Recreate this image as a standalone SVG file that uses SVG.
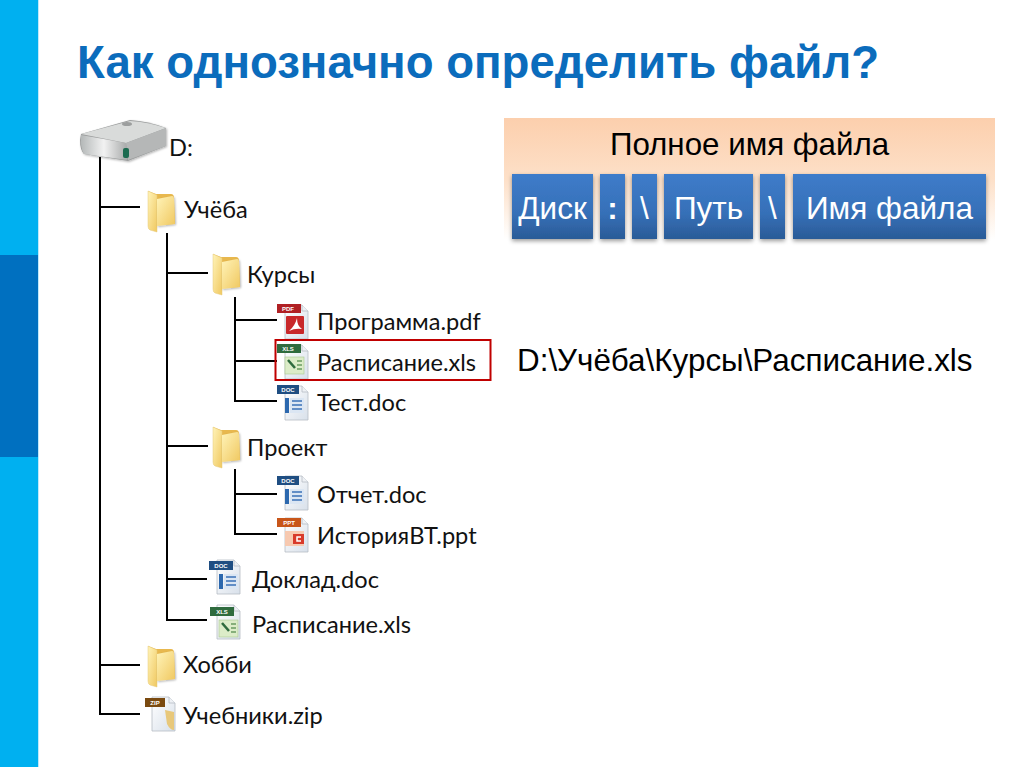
<svg xmlns="http://www.w3.org/2000/svg" width="1024" height="767" viewBox="0 0 1024 767">
<style>
.t{font-family:"Lato","Noto Sans","Liberation Sans",sans-serif;font-size:23.6px;fill:#111}
.a{font-family:"Liberation Sans",Arial,sans-serif}
.w{font-size:31.5px;fill:#fff;text-anchor:middle}
.l{stroke:#000;stroke-width:2;fill:none}
.box{fill:url(#bl);filter:url(#sh)}
.badge{font-family:"Liberation Sans",sans-serif;font-size:6px;font-weight:bold;fill:#fff;text-anchor:middle}
</style>
<defs>
<linearGradient id="pe" x1="0" y1="0" x2="0" y2="1"><stop offset="0" stop-color="#fccfad"/><stop offset=".5" stop-color="#fde0c8"/><stop offset="1" stop-color="#fff"/></linearGradient>
<linearGradient id="bl" x1="0" y1="0" x2="0" y2="1"><stop offset="0" stop-color="#3e7cca"/><stop offset=".6" stop-color="#3670b8"/><stop offset="1" stop-color="#2a5b97"/></linearGradient>
<linearGradient id="fo" x1="0" y1="0" x2="1" y2="1"><stop offset="0" stop-color="#fff3b8"/><stop offset="1" stop-color="#f0c860"/></linearGradient>
<linearGradient id="hd" x1="0" y1="0" x2="1" y2="0"><stop offset="0" stop-color="#b4b8b8"/><stop offset=".5" stop-color="#f2f2f2"/><stop offset="1" stop-color="#a8aaaa"/></linearGradient>
<linearGradient id="pg" x1="0" y1="0" x2="1" y2="1"><stop offset="0" stop-color="#fff"/><stop offset="1" stop-color="#d8e0ea"/></linearGradient>
<filter id="sh" x="-20%" y="-10%" width="140%" height="125%"><feDropShadow dx="0" dy="2" stdDeviation="2" flood-color="#000" flood-opacity=".4"/></filter>
<filter id="soft" x="-20%" y="-20%" width="140%" height="140%"><feDropShadow dx="1" dy="1" stdDeviation="1" flood-color="#000" flood-opacity=".3"/></filter>
<symbol id="folder" viewBox="0 0 30 44" width="30" height="44" overflow="visible">
<path d="M1 1 L9 4 L24 4 Q27 4 27 8 L28 34 L10 35 Z" fill="#e8b84e"/>
<path d="M1 1 L10 5 L10 42 L3 40 Q1 39 1 36 Z" fill="url(#fo)" stroke="#e6c878" stroke-width=".5"/>
<path d="M10 9 L25 6 Q27 6 27 9 L28 34 L10 36 Z" fill="url(#fo)" filter="url(#soft)"/>
</symbol>
<symbol id="page" viewBox="0 0 32 38" width="32" height="38" overflow="visible">
<path d="M6 2 H23 L29 8 V36 H6 Z" fill="url(#pg)" stroke="#b6bcc4" stroke-width=".8"/>
<path d="M23 2 V8 H29" fill="#eef1f5" stroke="#b6bcc4" stroke-width=".8"/>
</symbol>
</defs>

<g id="sidebar">
<rect x="0" y="0" width="38" height="767" fill="#00b0f0"/>
<rect x="0" y="255" width="38" height="202" fill="#0070c0"/>
<rect x="38" y="0" width="1" height="767" fill="#bfe9fb"/>
</g>

<text id="title" class="a" x="77" y="78" font-size="45.6" font-weight="bold" fill="#0b6cbc">Как однозначно определить файл?</text>

<g id="connectors">
<path class="l" d="M100 157V714H140M100 207H140M100 665H140"/>
<path class="l" d="M167 233V620H207M167 273H208M167 446H208M167 579H207"/>
<path class="l" d="M235 297V401H277M235 320H277M235 361H277"/>
<path class="l" d="M235 469V534H277M235 494H277"/>
</g>

<g id="node-d">
<path d="M81 134 L130 120 Q148 121 166 128 L166 146 L128 161 L84 154 Q80 150 80 140 Z" fill="#9a9c9c" filter="url(#soft)"/>
<path d="M81 134 L130 121 Q148 122 166 128 L126 143 Z" fill="#d9dbda"/>
<path d="M81 135 L126 143 L127 160 L84 154 Q80 148 81 135 Z" fill="url(#hd)"/>
<path d="M126 143 L166 128 L166 146 L128 160 Z" fill="#b5b7b7"/>
<rect x="123" y="148" width="6" height="10" rx="2" fill="#1c6b50"/>
<ellipse cx="127" cy="124" rx="5" ry="2" fill="#9c9e9e"/>
<text class="t" x="169" y="156">D:</text>
</g>
<g id="node-ucheba"><use href="#folder" x="147" y="190"/><text class="t" x="184" y="218">Учёба</text></g>
<g id="node-kursy"><use href="#folder" x="212" y="253"/><text class="t" x="247" y="283">Курсы</text></g>

<g id="node-programma">
<use href="#page" x="279" y="303"/><rect x="277" y="304" width="24" height="9" fill="#b02024"/><text class="badge" x="288" y="311">PDF</text>
<rect x="286" y="316" width="18" height="18" rx="1" fill="#c8282a"/><path d="M289 331 Q295 326 297 318 Q297 326 302 329 Q295 328 289 331Z" fill="#fff"/>
<text class="t" x="317" y="330">Программа.pdf</text>
</g>
<g id="node-raspisanie1">
<use href="#page" x="279" y="343"/><rect x="277" y="344" width="24" height="9" fill="#2f6b3e"/><text class="badge" x="288" y="351">XLS</text>
<rect x="285" y="357" width="19" height="17" fill="#dcecc8" stroke="#a8c890" stroke-width=".6"/><path d="M288 360 L295 368" stroke="#2f6b3e" stroke-width="2.5"/><path d="M297 361H302M297 365H302M297 369H302" stroke="#6a9a60" stroke-width="1.5"/>
<text class="t" x="317" y="371">Расписание.xls</text>
<rect x="275.5" y="340" width="215" height="40" fill="none" stroke="#c00000" stroke-width="2"/>
</g>
<g id="node-test">
<use href="#page" x="279" y="384"/><rect x="277" y="385" width="22" height="9" fill="#1f4e82"/><text class="badge" x="288" y="392">DOC</text>
<rect x="285" y="398" width="4" height="15" fill="#2c68ae"/><rect x="290" y="398" width="14" height="15" fill="#dbe6f3"/><path d="M292 401H302M292 405H302M292 409H302" stroke="#3b72b8" stroke-width="1.3"/>
<text class="t" x="317" y="411">Тест.doc</text>
</g>
<g id="node-proekt"><use href="#folder" x="212" y="426"/><text class="t" x="247" y="456">Проект</text></g>
<g id="node-otchet">
<use href="#page" x="279" y="474"/><rect x="277" y="476" width="22" height="9" fill="#1f4e82"/><text class="badge" x="288" y="483">DOC</text>
<rect x="285" y="489" width="4" height="15" fill="#2c68ae"/><rect x="290" y="489" width="14" height="15" fill="#dbe6f3"/><path d="M292 492H302M292 496H302M292 500H302" stroke="#3b72b8" stroke-width="1.3"/>
<text class="t" x="317" y="503">Отчет.doc</text>
</g>
<g id="node-istoria">
<use href="#page" x="279" y="516"/><rect x="277" y="518" width="24" height="9" fill="#c8561a"/><text class="badge" x="289" y="525">PPT</text>
<rect x="285" y="531" width="19" height="15" fill="#f7c9b0"/><rect x="293" y="534" width="11" height="10" fill="#d83a2a"/><path d="M301 537H297V541H301" stroke="#fff" stroke-width="1.5" fill="none"/>
<text class="t" x="317" y="544">ИсторияВТ.ppt</text>
</g>
<g id="node-doklad">
<use href="#page" x="211" y="558"/><rect x="209" y="561" width="24" height="9" fill="#1f4e82"/><text class="badge" x="221" y="568">DOC</text>
<rect x="219" y="574" width="4" height="15" fill="#2c68ae"/><rect x="224" y="574" width="14" height="15" fill="#dbe6f3"/><path d="M226 577H236M226 581H236M226 585H236" stroke="#3b72b8" stroke-width="1.3"/>
<text class="t" x="252" y="588">Доклад.doc</text>
</g>
<g id="node-raspisanie2">
<use href="#page" x="211" y="603"/><rect x="210" y="607" width="24" height="9" fill="#2f6b3e"/><text class="badge" x="222" y="614">XLS</text>
<rect x="219" y="620" width="19" height="17" fill="#dcecc8" stroke="#a8c890" stroke-width=".6"/><path d="M222 623 L229 631" stroke="#2f6b3e" stroke-width="2.5"/><path d="M231 624H236M231 628H236M231 632H236" stroke="#6a9a60" stroke-width="1.5"/>
<text class="t" x="252" y="633">Расписание.xls</text>
</g>
<g id="node-hobbi"><use href="#folder" x="147" y="645"/><text class="t" x="183" y="673">Хобби</text></g>
<g id="node-zip">
<use href="#page" x="146" y="695"/><rect x="145" y="698" width="20" height="9" fill="#7a4a10"/><text class="badge" x="155" y="705">ZIP</text>
<path d="M165 710 L167 724 Q170 730 174 730 V712 Z" fill="#e8c87a"/>
<text class="t" x="183" y="724">Учебники.zip</text>
</g>

<g id="panel">
<rect x="504" y="118" width="491" height="122" fill="url(#pe)"/>
<text class="a" x="749.5" y="154.5" font-size="31.3" text-anchor="middle" fill="#000">Полное имя файла</text>
</g>
<g id="box-disk"><rect class="box" x="512" y="174" width="81" height="65"/><text class="a w" x="552.5" y="219">Диск</text></g>
<g id="box-colon"><rect class="box" x="600" y="174" width="25" height="65"/><text class="a w" x="612.5" y="219" font-weight="bold">:</text></g>
<g id="box-bs1"><rect class="box" x="632" y="174" width="25" height="65"/><text class="a w" x="644.5" y="219">\</text></g>
<g id="box-path"><rect class="box" x="664" y="174" width="89" height="65"/><text class="a w" x="708.5" y="219">Путь</text></g>
<g id="box-bs2"><rect class="box" x="760" y="174" width="25" height="65"/><text class="a w" x="772.5" y="219">\</text></g>
<g id="box-name"><rect class="box" x="793" y="174" width="193" height="65"/><text class="a w" x="889.5" y="219">Имя файла</text></g>

<text id="fullpath" class="a" x="517" y="371" font-size="31.4" fill="#000">D:\Учёба\Курсы\Расписание.xls</text>
</svg>
